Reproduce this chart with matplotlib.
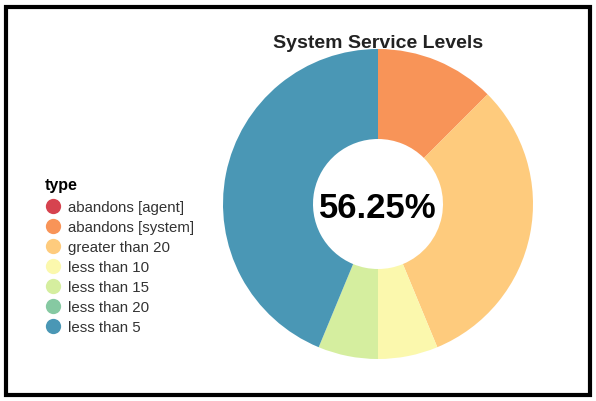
import matplotlib
matplotlib.use("Agg")
import matplotlib.pyplot as plt
from matplotlib.lines import Line2D
from matplotlib.patches import Rectangle

categories = ['abandons [agent]', 'abandons [system]', 'greater than 20',
              'less than 10', 'less than 15', 'less than 20', 'less than 5']
values = [0, 12.5, 31.25, 6.25, 6.25, 0, 43.75]
colors = ['#d6434f', '#f89458', '#fecb7d', '#fbf8ad', '#d5ee9f', '#86c9a2', '#4a97b5']
service_levels = ['less than 5', 'less than 10', 'less than 15']
title = 'System Service Levels'

plt.rcParams['font.family'] = ['Liberation Sans', 'DejaVu Sans']

W, H = 596, 402
fig = plt.figure(figsize=(W / 100, H / 100), dpi=100)
ax = fig.add_axes([0, 0, 1, 1])

cx, cy = 378, H - 205
R, ring = 155, 90
ax.pie(values, colors=colors, startangle=90, counterclock=False,
       center=(cx, cy), radius=R, frame=True,
       wedgeprops=dict(width=ring, edgecolor='none', linewidth=0))
ax.set_xlim(0, W)
ax.set_ylim(0, H)
ax.set_aspect('equal')
ax.axis('off')

total = sum(values)
pct = sum(v for c, v in zip(categories, values) if c in service_levels) / total * 100
ax.text(cx, cy - 4, f'{pct:.2f}%', ha='center', va='center',
        fontsize=25, fontweight='bold', color='black')

ax.text(cx, H - 43, title, ha='center', va='center', fontsize=14,
        fontweight='bold', color='#222222')

handles = [Line2D([], [], linestyle='none', marker='o', markersize=11,
                  markerfacecolor=c, markeredgecolor='none') for c in colors]
leg = fig.legend(handles, categories, title='type', loc='upper left',
                 bbox_to_anchor=(45 / W, 1 - 178 / H), frameon=False,
                 fontsize=10.8, title_fontproperties={'weight': 'bold', 'size': 11.5},
                 alignment='left', handlelength=1.0, handletextpad=0.55,
                 labelspacing=0.4, borderpad=0, borderaxespad=0)
leg._legend_box.sep = 6
for t in leg.get_texts():
    t.set_color('#333333')

fig.patches.append(Rectangle((6 / W, 6 / H), (W - 12) / W, (H - 14) / H,
                             transform=fig.transFigure, fill=False,
                             edgecolor='black', linewidth=3))

fig.savefig('out.png', dpi=100)
